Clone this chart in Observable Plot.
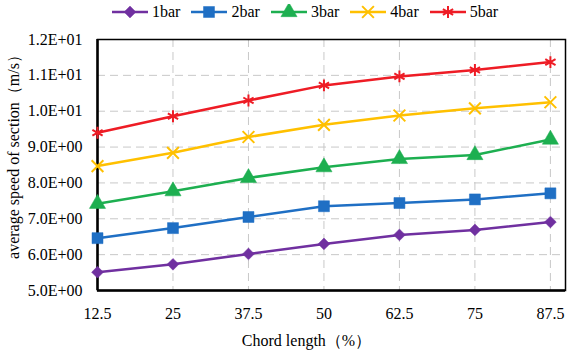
<!DOCTYPE html>
<html><head><meta charset="utf-8">
<script src="https://cdn.jsdelivr.net/npm/d3@7"></script>
<script src="https://cdn.jsdelivr.net/npm/@observablehq/plot@0.6"></script>
<style>
body{margin:0;background:#fff;font-family:"Liberation Serif","DejaVu Serif",serif;}
#legend{height:24px;display:flex;align-items:center;padding-left:112px;font-size:16px;color:#000;}
.item{display:flex;align-items:center;margin-right:11px}
.item svg{margin-right:4px}
svg text{font-family:"Liberation Serif","DejaVu Serif",serif !important;}
</style></head><body>
<div id="legend"></div><div id="chart"></div>
<script>
const chordLength = [12.5, 25, 37.5, 50, 62.5, 75, 87.5];
const seriesNames = ["1bar", "2bar", "3bar", "4bar", "5bar"];
const speed1bar = [5.51, 5.73, 6.02, 6.30, 6.55, 6.69, 6.91];
const speed2bar = [6.46, 6.74, 7.05, 7.35, 7.44, 7.54, 7.71];
const speed3bar = [7.42, 7.77, 8.14, 8.44, 8.67, 8.78, 9.21];
const speed4bar = [8.47, 8.84, 9.28, 9.62, 9.88, 10.08, 10.25];
const speed5bar = [9.40, 9.86, 10.30, 10.72, 10.97, 11.15, 11.37];
const yTicks = [5, 6, 7, 8, 9, 10, 11, 12];
const xTitle = "Chord length（%）";
const yTitle = "average speed of section（m/s）";
const colors = ["#7030A0", "#1F6FC4", "#1DAF50", "#FFC000", "#EE1C25"];
const symbols = ["diamond2", "square", "triangle", "times", "asterisk"];
const d3symbols = [d3.symbolDiamond2, d3.symbolSquare, d3.symbolTriangle, d3.symbolTimes, d3.symbolAsterisk];
const radii = [5.3, 6.2, 6, 5.4, 5.6];
const filled = [true, true, true, false, false];

const allSeries = [speed1bar, speed2bar, speed3bar, speed4bar, speed5bar];
const rows = [];
allSeries.forEach((vals, si) => vals.forEach((v, i) => rows.push({series: seriesNames[si], x: chordLength[i], y: v, si})));

const fmt = d => {
  const e = Math.floor(Math.log10(d) + 1e-9);
  const m = d / Math.pow(10, e);
  return m.toFixed(1) + "E" + (e >= 0 ? "+" : "-") + String(Math.abs(e)).padStart(2, "0");
};

const marks = [
  Plot.gridY(yTicks.slice(1, -1), {stroke: "#c8c8c8", strokeOpacity: 1, strokeDasharray: "8,5", strokeWidth: 1}),
  Plot.gridX(chordLength.slice(1), {stroke: "#c8c8c8", strokeOpacity: 1, strokeDasharray: "8,5", strokeWidth: 1}),
  Plot.frame({stroke: "#000", strokeWidth: 1.5}),
  Plot.ruleY([yTicks[0]], {stroke: "#000", strokeWidth: 2.5}),
  Plot.ruleX([chordLength[0]], {stroke: "#000", strokeWidth: 2.5}),
  Plot.axisY({ticks: yTicks, tickFormat: fmt, tickSize: 0, tickPadding: 15, label: null, fontSize: 16}),
  Plot.axisX({ticks: chordLength, tickFormat: d => String(d), tickSize: 0, tickPadding: 17, label: null, fontSize: 16}),
  Plot.text([xTitle], {text: d => d, frameAnchor: "bottom", dy: 55, dx: -25, fontSize: 16}),
  Plot.text([yTitle], {text: d => d, frameAnchor: "left", rotate: -90, textAnchor: "middle", dx: -84, dy: -12, fontSize: 16})
];
seriesNames.forEach((name, si) => {
  const data = rows.filter(r => r.si === si);
  marks.push(Plot.line(data, {x: "x", y: "y", stroke: colors[si], strokeWidth: 2.5}));
  marks.push(Plot.dot(data, {
    x: "x", y: "y", symbol: symbols[si], r: radii[si],
    fill: filled[si] ? colors[si] : "none",
    stroke: colors[si], strokeWidth: filled[si] ? 0.5 : 2
  }));
});

const chart = Plot.plot({
  width: 569, height: 332,
  marginTop: 15, marginBottom: 66, marginLeft: 97, marginRight: 4,
  x: {type: "linear", domain: [12.5, 90]},
  y: {domain: [5, 12]},
  style: {fontFamily: "Liberation Serif, DejaVu Serif, serif", fontSize: "16px", color: "#000", background: "#fff"},
  marks
});
document.getElementById("chart").appendChild(chart);

const legend = d3.select("#legend");
seriesNames.forEach((name, si) => {
  const item = legend.append("div").attr("class", "item");
  const svg = item.append("svg").attr("width", 36).attr("height", 16);
  svg.append("line").attr("x1", 0).attr("x2", 36).attr("y1", 8).attr("y2", 8).attr("stroke", colors[si]).attr("stroke-width", 2.5);
  svg.append("path").attr("transform", "translate(18,8)")
    .attr("d", d3.symbol(d3symbols[si], Math.PI * radii[si] * radii[si])())
    .attr("fill", filled[si] ? colors[si] : "none")
    .attr("stroke", colors[si]).attr("stroke-width", filled[si] ? 0.5 : 2);
  item.append("span").text(name);
});
</script>
</body></html>
